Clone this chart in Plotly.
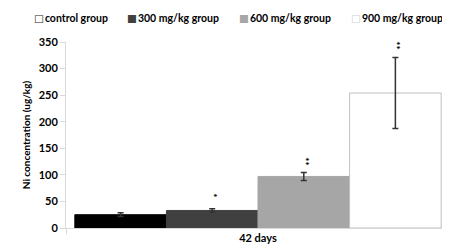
import plotly.graph_objects as go

category = ["42 days"]
groups = ["control group", "300 mg/kg group", "600 mg/kg group", "900 mg/kg group"]
values = [25, 33, 97, 254]
errors = [3.5, 3, 7.5, 67]
star_text = ["", "*", "**", "**"]
star_y = [0, 61, 124, 343]
bar_colors = ["#000000", "#404040", "#a6a6a6", "#ffffff"]
bar_lines = ["#000000", "#404040", "#a6a6a6", "#bfbfbf"]
legend_glyphs = ["□", "■", "■", "□"]
legend_colors = ["#262626", "#404040", "#a6a6a6", "#d0d0d0"]
legend_x_px = [24, 117, 229, 341]
y_ticks = [0, 50, 100, 150, 200, 250, 300, 350]

FONT = "Lato, 'Open Sans', sans-serif"
L, R, T, B = 58, 8, 34, 26
W, H = 450, 246
bargap = 0.046

fig = go.Figure()
for i, g in enumerate(groups):
    fig.add_trace(go.Bar(
        x=category, y=[values[i]], name=g,
        marker=dict(color=bar_colors[i], line=dict(color=bar_lines[i], width=1)),
        error_y=dict(type="data", array=[errors[i]], visible=True,
                     color="#333333", thickness=1.5, width=3),
        showlegend=False,
    ))

n = len(groups)
bw = (1 - bargap) / n
annotations = []
for i, s in enumerate(star_text):
    if not s:
        continue
    cx = -(1 - bargap) / 2 + (i + 0.5) * bw
    annotations.append(dict(x=cx, y=star_y[i], xref="x", yref="y", text=s,
                            showarrow=False, textangle=90, yanchor="middle",
                            xshift=2,
                            font=dict(family=FONT, size=10, color="#000000", weight="bold")))

pw = W - L - R
for i, g in enumerate(groups):
    annotations.append(dict(
        x=(legend_x_px[i] - L) / pw, y=(H - B - 10) / (H - T - B),
        xref="paper", yref="paper", xanchor="left", yanchor="middle",
        showarrow=False,
        text=(f"<span style='color:{legend_colors[i]};font-family:DejaVu Sans'>{legend_glyphs[i]}</span>"
              f"<span style='font-size:4px'> </span>{g}"),
        font=dict(family=FONT, size=10.5, color="#000000", weight="bold"),
    ))

fig.update_layout(
    width=W, height=H,
    margin=dict(l=L, r=R, t=T, b=B),
    paper_bgcolor="white", plot_bgcolor="white",
    barmode="group", bargap=bargap, bargroupgap=0,
    annotations=annotations,
    font=dict(family=FONT, color="#000000"),
    xaxis=dict(showline=True, linecolor="#d9d9d9", linewidth=1,
               ticks="outside", tickson="boundaries", ticklen=5, tickcolor="#d9d9d9",
               tickfont=dict(family=FONT, size=11, weight="bold"),
               showgrid=False),
    yaxis=dict(range=[0, 350], tickvals=y_ticks, showline=True, linecolor="#d9d9d9",
               linewidth=1, ticks="outside", ticklen=5, tickcolor="#d9d9d9",
               tickfont=dict(family=FONT, size=11, weight="bold"),
               showgrid=False, zeroline=False,
               title=dict(text="Ni concentration (ug/kg)", standoff=6,
                          font=dict(family=FONT, size=10, weight="bold"))),
)
fig.write_html("out.html")
